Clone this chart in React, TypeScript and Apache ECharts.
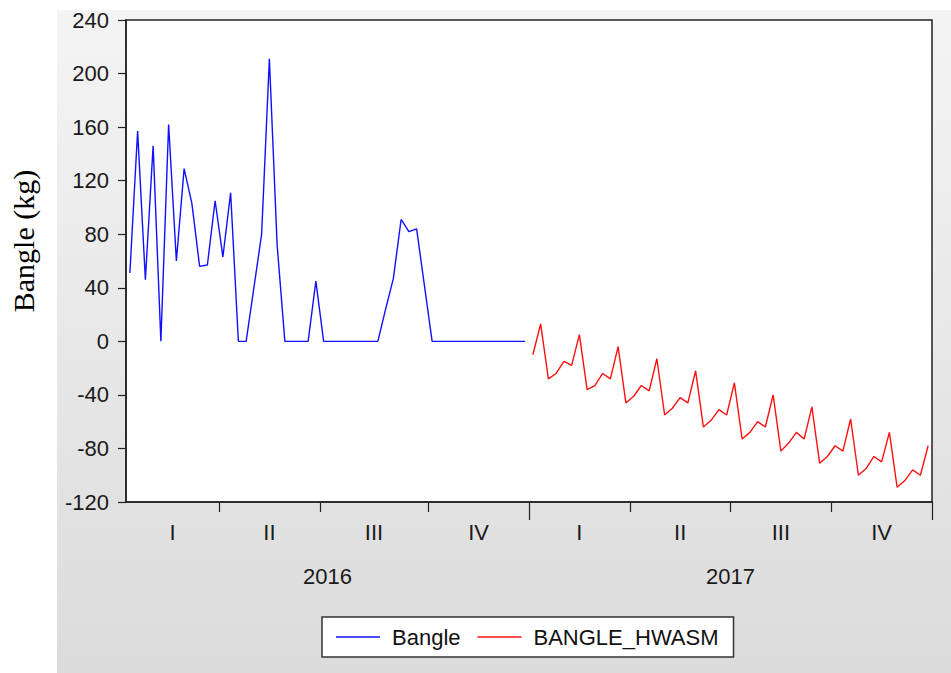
import React, { useEffect, useRef } from "react";
import * as echarts from "echarts";

// Weekly observations, 2016 (actual) and 2017 (Holt-Winters forecast)
const bangle = [
  51, 157, 46, 146, 0, 162, 60, 129, 103, 56, 57, 105, 63, 111, 0, 0, 40, 80,
  211, 72, 0, 0, 0, 0, 45, 0, 0, 0, 0, 0, 0, 0, 0, 24, 47, 91, 82, 84, 42, 0, 0,
  0, 0, 0, 0, 0, 0, 0, 0, 0, 0, 0,
];
const bangleHwasm = [
  -10, 13, -28, -24, -15, -18, 5, -36, -33, -24, -28, -4, -46, -41, -33, -37,
  -13, -55, -50, -42, -46, -22, -64, -59, -51, -55, -31, -73, -68, -60, -64,
  -40, -82, -76, -68, -73, -49, -91, -86, -78, -82, -58, -100, -95, -86, -90,
  -68, -109, -104, -96, -100, -78,
];
const quarterLabels = ["I", "II", "III", "IV", "I", "II", "III", "IV"];
const yearLabels = ["2016", "2017"];
// week index at which each quarter / year begins (last = end of data)
const quarterStarts = [0, 12, 25, 39, 52, 65, 78, 91, 104];
const yearStarts = [0, 52, 104];
const yMin = -120;
const yMax = 240;
const yStep = 40;

const SANS = "'Liberation Sans', Arial, sans-serif";

function mids(b: number[]) {
  const out: number[] = [];
  for (let i = 0; i < b.length - 1; i++) out.push((b[i] + b[i + 1]) / 2);
  return out;
}

function nearestLabel(v: number, pos: number[], labels: string[]) {
  let best = 0;
  for (let i = 1; i < pos.length; i++)
    if (Math.abs(pos[i] - v) < Math.abs(pos[best] - v)) best = i;
  return labels[best];
}

export default function App() {
  const ref = useRef<HTMLDivElement>(null);

  useEffect(() => {
    if (!ref.current) return;
    const chart = echarts.init(ref.current, null, { renderer: "svg" });
    const total = quarterStarts[quarterStarts.length - 1];
    const qMid = mids(quarterStarts);
    const yrMid = mids(yearStarts);
    const qTicks = quarterStarts.filter((q) => !yearStarts.includes(q));
    const yrTicks = yearStarts.filter((y) => y > 0);

    const bangleData = bangle.map((v, i) => [i + 0.5, v]);
    const hwData = bangleHwasm.map((v, i) => [bangle.length + i + 0.5, v]);

    chart.setOption({
      animation: false,
      backgroundColor: "#ffffff",
      graphic: [
        {
          type: "rect",
          z: -100,
          silent: true,
          shape: { x: 57, y: 10, width: 900, height: 670 },
          style: {
            fill: {
              type: "linear",
              x: 0,
              y: 0,
              x2: 0,
              y2: 1,
              colorStops: [
                { offset: 0, color: "#f4f4f4" },
                { offset: 1, color: "#dbdbdb" },
              ],
            },
          },
        },
      ],
      grid: {
        left: 126,
        right: 19,
        top: 20,
        bottom: 171,
        show: true,
        backgroundColor: "#ffffff",
        borderColor: "#222222",
        borderWidth: 1.5,
        containLabel: false,
        outerBoundsMode: "none",
      },
      legend: {
        left: 322,
        top: 617,
        orient: "horizontal",
        backgroundColor: "#ffffff",
        borderColor: "#333333",
        borderWidth: 1.5,
        padding: [9, 15, 9, 14],
        icon: "rect",
        itemWidth: 44,
        itemHeight: 1.6,
        itemGap: 17,
        textStyle: {
          fontFamily: SANS,
          fontSize: 22,
          color: "#111111",
          padding: [0, 0, 0, 7],
        },
        data: ["Bangle", "BANGLE_HWASM"],
      },
      xAxis: [
        {
          type: "value",
          min: 0,
          max: total,
          position: "bottom",
          axisLine: {
            show: true,
            onZero: false,
            lineStyle: { color: "#222222", width: 1.5 },
          },
          axisTick: {
            show: true,
            customValues: qTicks,
            length: 10,
            lineStyle: { color: "#222222", width: 1.2 },
          },
          axisLabel: {
            customValues: qMid,
            formatter: (v: number) => nearestLabel(v, qMid, quarterLabels),
            margin: 19,
            fontSize: 22,
            fontFamily: SANS,
            color: "#1a1a1a",
          },
          splitLine: { show: false },
        },
        {
          type: "value",
          min: 0,
          max: total,
          position: "bottom",
          axisLine: { show: false, onZero: false },
          axisTick: {
            show: true,
            customValues: yrTicks,
            length: 18,
            lineStyle: { color: "#222222", width: 1.2 },
          },
          axisLabel: {
            customValues: yrMid,
            formatter: (v: number) => nearestLabel(v, yrMid, yearLabels),
            margin: 63,
            fontSize: 22,
            fontFamily: SANS,
            color: "#1a1a1a",
          },
          splitLine: { show: false },
        },
      ],
      yAxis: {
        type: "value",
        min: yMin,
        max: yMax,
        interval: yStep,
        name: "Bangle (kg)",
        nameLocation: "middle",
        nameGap: 88,
        nameTextStyle: {
          fontFamily: "'Liberation Serif', 'Times New Roman', serif",
          fontSize: 30,
          color: "#000000",
          padding: [0, 0, 0, 40],
        },
        axisLine: {
          show: true,
          onZero: false,
          lineStyle: { color: "#222222", width: 1.5 },
        },
        axisTick: {
          show: true,
          length: 8,
          lineStyle: { color: "#222222", width: 1.2 },
        },
        axisLabel: {
          margin: 17,
          fontSize: 22,
          fontFamily: SANS,
          color: "#1a1a1a",
        },
        splitLine: { show: false },
      },
      series: [
        {
          name: "Bangle",
          type: "line",
          xAxisIndex: 0,
          data: bangleData,
          symbol: "none",
          lineStyle: { color: "#1010ff", width: 1.4 },
          itemStyle: { color: "#1010ff" },
        },
        {
          name: "BANGLE_HWASM",
          type: "line",
          xAxisIndex: 0,
          data: hwData,
          symbol: "none",
          lineStyle: { color: "#ff1010", width: 1.4 },
          itemStyle: { color: "#ff1010" },
        },
      ],
    });

    return () => chart.dispose();
  }, []);

  return (
    <div
      ref={ref}
      style={{ width: 951, height: 673, position: "absolute", left: 0, top: 0 }}
    />
  );
}
